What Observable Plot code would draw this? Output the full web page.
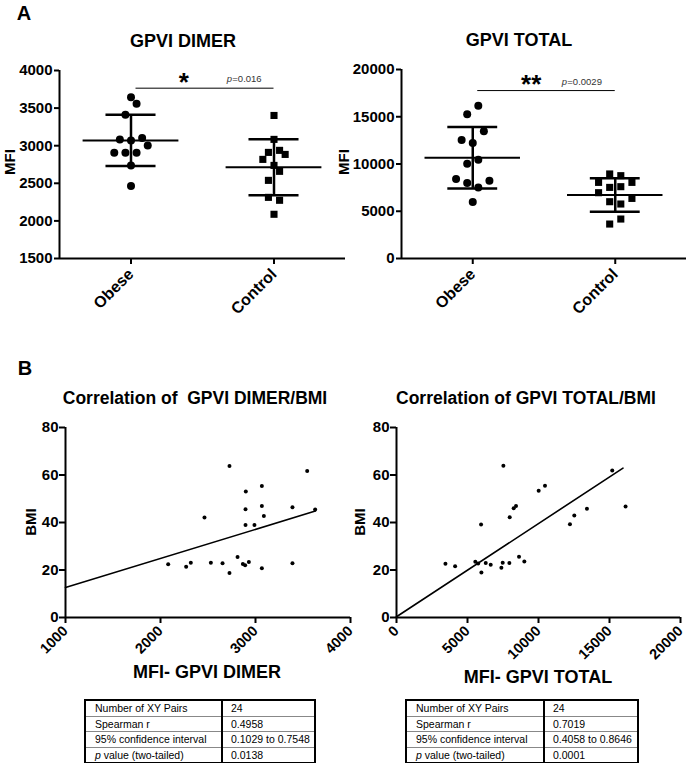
<!DOCTYPE html>
<html><head><meta charset="utf-8">
<script src="https://cdn.jsdelivr.net/npm/d3@7"></script>
<script src="https://cdn.jsdelivr.net/npm/@observablehq/plot@0.6"></script>
<style>
body{margin:0;background:#fff;font-family:"Liberation Sans",Arial,sans-serif;color:#000;}
#root{position:relative;width:688px;height:763px;overflow:hidden;background:#fff;}
.c{position:absolute;transform:translate(-50%,-50%);white-space:pre;font-weight:bold;}
.r{position:absolute;transform:translate(-50%,-50%) rotate(-90deg);white-space:pre;font-weight:bold;}
table.st{position:absolute;border-collapse:collapse;border:2px solid #000;font-size:10.5px;font-family:"Liberation Sans",Arial,sans-serif;table-layout:fixed;}
table.st td{border-top:1px solid #888;height:14.5px;padding:0 0 0 9px;line-height:14px;white-space:nowrap;overflow:hidden;}
table.st td.a{border-right:2px solid #000;}
table.st td.b{padding-left:8px;}
</style>
</head><body><div id="root"></div>
<script>
// ---------- DATA ----------
const groups = ["Obese", "Control"];
// Panel A: GPVI DIMER (MFI)
const dimerObese = [3645, 3558, 3412, 3084, 3070, 3101, 3004, 2907, 2907, 2907, 2738, 2463];
const dimerObeseSlot = [0, 1, -1, -2, 0, 2, 3, -3, -1, 1, 0, 0];
const dimerControl = [3402, 3084, 2911, 2938, 2884, 2818, 2738, 2659, 2539, 2313, 2274, 2088];
const dimerControlSlot = [0, 0, -1, 1, 2, -2, 0, 1, -1, -1, 1, 0];
const dimerMean = [3070, 2714];
const dimerSD = [340, 372];
const dimerTicks = [1500, 2000, 2500, 3000, 3500, 4000];
// Panel A: GPVI TOTAL (MFI)
const totalObese = [16153, 15262, 13460, 12549, 12231, 10461, 10037, 8415, 7992, 8235, 7525, 5978];
const totalObeseSlot = [1, -1, 2, -2, 0, 1, -1, -3, -1, 3, 1, 0];
const totalControl = [8946, 8765, 8055, 8055, 7525, 7600, 6963, 6010, 5766, 6359, 4176, 3646];
const totalControlSlot = [-1, 1, -3, 3, -1, 1, -3, -1, 1, 3, 1, -1];
const totalMean = [10670, 6720];
const totalSD = [3250, 1770];
const totalTicks = [0, 5000, 10000, 15000, 20000];
// Panel B: correlation GPVI DIMER vs BMI
const corrDimerX = [2081, 2270, 2319, 2463, 2530, 2653, 2726, 2726, 2811, 2867, 2891, 2930, 2895, 2895, 2898, 2989, 3067, 3067, 3088, 3067, 3389, 3389, 3544, 3628];
const corrDimerBMI = [22.4, 21.4, 23.1, 42.1, 23.1, 22.8, 63.8, 18.7, 25.5, 22.5, 22.0, 23.4, 39.0, 45.6, 53.1, 39.0, 55.4, 46.9, 42.7, 20.7, 46.4, 22.8, 61.7, 45.5];
const fitDimerX = [1000, 3630];
const fitDimerY = [12.6, 44.8];
const dimerXTicks = [1000, 2000, 3000, 4000];
// Panel B: correlation GPVI TOTAL vs BMI
const corrTotalX = [3447, 4127, 5550, 5750, 5955, 5979, 6284, 6635, 7386, 7480, 7526, 7948, 7972, 8253, 8417, 8628, 9003, 10012, 10457, 12216, 12521, 13411, 15193, 16131];
const corrTotalBMI = [22.6, 21.6, 23.5, 22.7, 39.2, 19.0, 22.9, 22.2, 20.9, 23.1, 63.9, 22.9, 42.2, 46.0, 47.0, 25.6, 23.6, 53.4, 55.5, 39.3, 42.9, 45.8, 61.9, 46.7];
const fitTotalX = [0, 15950];
const fitTotalY = [0.3, 62.9];
const totalXTicks = [0, 5000, 10000, 15000, 20000];
const bmiTicks = [0, 20, 40, 60, 80];
// Statistics tables
const statLabels = ["Number of XY Pairs", "Spearman r", "95% confidence interval", "value (two-tailed)"];
const statsDimer = ["24", "0.4958", "0.1029 to 0.7548", "0.0138"];
const statsTotal = ["24", "0.7019", "0.4058 to 0.8646", "0.0001"];

// ---------- LAYOUT ----------
const root = document.getElementById("root");
const FONT = "'Liberation Sans', Arial, sans-serif";
const baseStyle = {background: "transparent", overflow: "visible", fontFamily: FONT, fontWeight: "bold", fontSize: "14px", color: "#000"};

function put(el, left, top) {
  el.style.position = "absolute"; el.style.left = left + "px"; el.style.top = top + "px";
  root.appendChild(el);
}
function label(text, cx, cy, size, rotate) {
  const d = document.createElement("div");
  d.className = rotate ? "r" : "c";
  d.textContent = text;
  d.style.left = cx + "px"; d.style.top = cy + "px"; d.style.fontSize = size + "px";
  root.appendChild(d);
}

function groupPlot(o) {
  const pts = [
    ...o.obese.map((v, i) => ({g: 0, s: o.obeseSlot[i], v, k: "Obese"})),
    ...o.control.map((v, i) => ({g: 1, s: o.controlSlot[i], v, k: "Control"}))
  ];
  const sum = groups.map((g, i) => ({g: i, m: o.mean[i], lo: o.mean[i] - o.sd[i], hi: o.mean[i] + o.sd[i]}));
  const yd = [o.ticks[0], o.ticks[o.ticks.length - 1]];
  const slot = 0.039;
  return Plot.plot({
    width: o.width, height: 330,
    marginLeft: o.ml, marginRight: o.mr, marginTop: o.mt, marginBottom: 330 - 258,
    style: baseStyle,
    x: {domain: [-0.5, 1.5], axis: null},
    y: {domain: yd, axis: null},
    symbol: {domain: ["Obese", "Control"], range: ["circle", "square"]},
    marks: [
      Plot.ruleX([-0.5], {y1: yd[0], y2: yd[1], strokeWidth: 2}),
      Plot.ruleY([yd[0]], {x1: -0.5, x2: 1.5, strokeWidth: 2}),
      Plot.axisY({ticks: o.ticks, tickFormat: "d", tickSize: 5, tickPadding: 2, strokeWidth: 2, fontSize: 15, label: null}),
      Plot.axisX({ticks: [0, 1], tickFormat: i => groups[i], tickSize: 6, tickPadding: 7, tickRotate: -45, strokeWidth: 2, fontSize: 16, label: null}),
      Plot.dot(pts, {x: d => d.g + d.s * slot, y: "v", symbol: "k", r: 4, fill: "black", stroke: "none"}),
      Plot.ruleX(sum, {x: "g", y1: "lo", y2: "hi", strokeWidth: 2.5}),
      Plot.ruleY(sum, {y: "m", x1: d => d.g - 0.335, x2: d => d.g + 0.335, strokeWidth: 2}),
      Plot.ruleY(sum, {y: "lo", x1: d => d.g - 0.175, x2: d => d.g + 0.175, strokeWidth: 2.5}),
      Plot.ruleY(sum, {y: "hi", x1: d => d.g - 0.175, x2: d => d.g + 0.175, strokeWidth: 2.5}),
      Plot.ruleY([o.sigY], {x1: 0.035, x2: 1.0, strokeWidth: 1}),
      Plot.text([o.stars], {x: o.starX, y: o.sigY, dy: -6, text: d => d, fontSize: 26, fontWeight: "bold", lineAnchor: "middle"}),
      Plot.text(["p"], {x: o.pX, y: o.sigY, dy: -9, text: d => d, fontSize: 9.5, fontWeight: "normal", fontStyle: "italic", textAnchor: "start", fill: "#333"}),
      Plot.text([o.pVal], {x: o.pX, y: o.sigY, dy: -9, dx: 5.5, text: d => d, fontSize: 9.5, fontWeight: "normal", textAnchor: "start", fill: "#333"})
    ]
  });
}

function corrPlot(o) {
  const pts = o.xs.map((x, i) => ({x, y: o.ys[i]}));
  const fit = o.fx.map((x, i) => ({x, y: o.fy[i]}));
  const xd = [o.xt[0], o.xt[o.xt.length - 1]];
  return Plot.plot({
    width: o.width, height: 360,
    marginLeft: o.ml, marginRight: o.mr, marginTop: 97, marginBottom: 73,
    style: baseStyle,
    x: {domain: xd, axis: null},
    y: {domain: [0, 80], axis: null},
    marks: [
      Plot.ruleX([xd[0]], {y1: 0, y2: 80, strokeWidth: 2}),
      Plot.ruleY([0], {x1: xd[0], x2: xd[1], strokeWidth: 2}),
      Plot.axisY({ticks: bmiTicks, tickFormat: "d", tickSize: 6, tickPadding: 1, strokeWidth: 2, fontSize: 15, label: null}),
      Plot.axisX({ticks: o.xt, tickFormat: "d", tickSize: 6, tickPadding: 5, tickRotate: -45, strokeWidth: 2, fontSize: 14.5, label: null}),
      Plot.line(fit, {x: "x", y: "y", strokeWidth: 1.6}),
      Plot.dot(pts, {x: "x", y: "y", r: 2, fill: "black", stroke: "none"})
    ]
  });
}

// Panel A
put(groupPlot({obese: dimerObese, obeseSlot: dimerObeseSlot, control: dimerControl, controlSlot: dimerControlSlot,
  mean: dimerMean, sd: dimerSD, ticks: dimerTicks, width: 350, ml: 59, mr: 5, mt: 70,
  sigY: 3765, stars: "*", starX: 0.37, pX: 0.67, pVal: "=0.016"}), 0, 0);
put(groupPlot({obese: totalObese, obeseSlot: totalObeseSlot, control: totalControl, controlSlot: totalControlSlot,
  mean: totalMean, sd: totalSD, ticks: totalTicks, width: 344, ml: 57, mr: 2, mt: 69,
  sigY: 17770, stars: "**", starX: 0.41, pX: 0.625, pVal: "=0.0029"}), 344, 0);

// Panel B
put(corrPlot({xs: corrDimerX, ys: corrDimerBMI, fx: fitDimerX, fy: fitDimerY, xt: dimerXTicks, width: 360, ml: 65, mr: 10}), 0, 330);
put(corrPlot({xs: corrTotalX, ys: corrTotalBMI, fx: fitTotalX, fy: fitTotalY, xt: totalXTicks, width: 344, ml: 52, mr: 8}), 344, 330);

// Text labels
label("A", 24, 13, 20);
label("B", 25, 368, 20);
label("GPVI DIMER", 183, 41, 18);
label("GPVI TOTAL", 519, 40, 18);
label("MFI", 9, 162, 15, true);
label("MFI", 343, 162, 15, true);
label("Correlation of  GPVI DIMER/BMI", 195, 398, 17.5);
label("Correlation of GPVI TOTAL/BMI", 526, 398, 17.5);
label("BMI", 30, 522, 15, true);
label("BMI", 359, 522, 15, true);
label("MFI- GPVI DIMER", 207, 672, 18);
label("MFI- GPVI TOTAL", 538, 677, 18);

// Tables
function statTable(vals, left, top, w, w1) {
  const t = document.createElement("table");
  t.className = "st";
  t.style.left = left + "px"; t.style.top = top + "px"; t.style.width = w + "px";
  statLabels.forEach((lab, i) => {
    const tr = document.createElement("tr");
    const a = document.createElement("td"); a.className = "a"; a.style.width = w1 + "px";
    if (i === 3) { const em = document.createElement("i"); em.textContent = "p"; a.appendChild(em); a.appendChild(document.createTextNode(" " + lab)); }
    else a.textContent = lab;
    const b = document.createElement("td"); b.className = "b"; b.textContent = vals[i];
    tr.appendChild(a); tr.appendChild(b); t.appendChild(tr);
  });
  root.appendChild(t);
}
statTable(statsDimer, 84, 699, 232, 126);
statTable(statsTotal, 405, 699, 234, 127);
</script>
</body></html>
